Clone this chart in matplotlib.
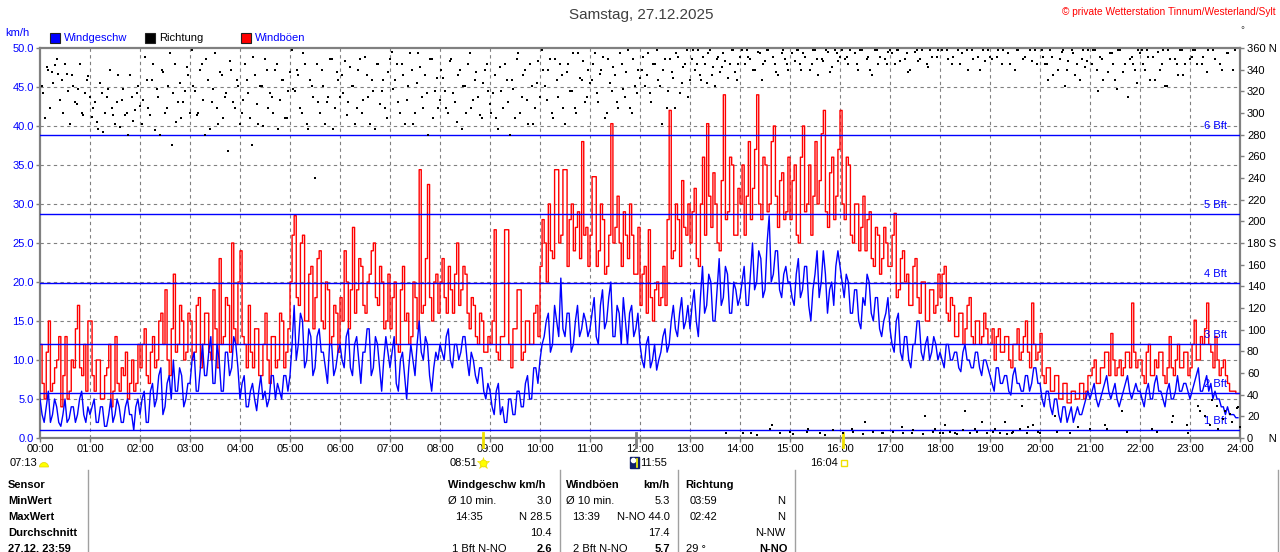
import matplotlib
matplotlib.use('Agg')
import matplotlib.pyplot as plt
import matplotlib.patches as mpatches
import numpy as np

plt.rcParams['font.family'] = ['Liberation Sans', 'DejaVu Sans']

# ---------------- data (2.5-minute values) ----------------
wind_speed = [
    5, 3, 2, 4, 6, 2, 3, 5, 4, 2, 1.5, 3, 5, 2, 2.5, 4, 4, 2, 3, 5, 6, 3, 2, 4,              # 00
    3, 4, 5, 2, 2, 4, 4, 1.5, 1.5, 3, 5, 2, 3, 5, 4, 2, 2, 4, 5, 3, 3, 1, 4, 5,              # 01
    3, 5, 6, 2, 2, 6, 7, 4, 5, 8, 9, 3, 4, 7, 8, 5, 10, 6, 6, 9, 8, 4, 5, 7,                 # 02
    7, 10, 11, 6, 6, 9, 12, 8, 8, 11, 13, 7, 7, 12, 10, 6, 6, 11, 11, 8, 9, 13, 12, 9,       # 03
    5, 7, 8, 4, 4, 6, 7, 5, 3.5, 6, 8, 5, 6, 4, 5, 8, 8, 5, 7, 6, 5, 8, 8, 6,                # 04
    8, 12, 17, 10, 12, 16, 15, 9, 10, 14, 13, 8, 9, 13, 14, 11, 11, 9, 7, 12, 12, 8, 9, 11,  # 05
    12, 10, 9, 13, 14, 9, 8, 12, 13, 10, 7, 11, 11, 14, 14, 8, 9, 13, 12, 9, 6, 10, 13, 11,  # 06
    9, 11, 13, 7, 6, 10, 11, 8, 5, 9, 12, 10, 8, 12, 15, 11, 10, 13, 12, 8, 6, 9, 11, 10,    # 07
    12, 11, 10, 13, 14, 10, 9, 12, 12, 10, 11, 13, 13, 10, 8, 11, 10, 8, 7, 9, 9, 6, 5, 7,   # 08
    6, 4, 3, 6, 7, 3, 4, 2, 2, 5, 5, 3, 3, 6, 6, 4, 4, 7, 8, 5, 5, 9, 9, 7,                  # 09
    10, 12, 13, 15, 16, 11, 12, 17, 15, 13, 20.5, 14, 13, 16, 16, 11, 12, 15, 17, 13, 14, 16, 15, 13,  # 10
    14, 16, 18, 13, 12, 17, 19, 14, 15, 18, 20, 13, 13, 17, 16, 12, 18, 15, 12, 16, 17, 13, 14, 16,    # 11
    12, 10, 9, 12, 13, 9, 10, 12, 8.7, 10, 11, 13, 14, 11, 12, 15, 17, 14, 13, 16, 18, 14, 15, 17,     # 12
    14, 17, 19, 15, 13, 18, 22, 16, 17, 21, 20, 15, 15, 19, 23, 17, 18, 22, 21, 16, 16, 20, 19, 17,    # 13
    18, 20, 22, 17, 17, 21, 25, 19, 20, 24, 23, 18, 19, 25, 28.5, 20, 21, 24, 24, 19, 18, 21, 22, 20,  # 14
    20, 18, 17, 21, 23, 18, 19, 22, 22, 17, 15, 19, 21, 24, 18, 20, 24, 21, 16, 19, 20, 17, 22, 24,    # 15
    22, 20, 18, 21, 20, 16, 16, 19, 19, 15, 14, 18, 17, 21, 20, 16, 15, 18, 18, 14, 13, 15, 16, 18,    # 16
    14, 12, 11, 15, 16, 11, 10, 13, 13, 10, 9, 12, 12, 15, 15, 11, 10, 12, 13, 10, 11, 13, 12, 10,     # 17
    11, 10, 9, 12, 12, 10, 10, 11, 11, 9, 8.5, 11, 12, 10, 10, 9, 9, 11, 11, 9, 8, 10, 10, 9,          # 18
    8, 7, 6, 9, 9, 7, 7, 8, 8, 6, 5.5, 8, 9, 7, 7, 6, 6, 8, 8, 6, 7, 9, 9, 7,                          # 19
    7, 5, 4, 6, 6, 4, 3, 5, 5, 3, 2, 4, 4, 2, 3, 4, 2, 3, 4, 3, 3, 4, 5, 6,                            # 20
    5, 6, 7, 5, 4, 5, 6, 7, 8, 6, 5, 6, 7, 5, 4, 5, 6, 7, 8, 6, 5, 6, 7, 6,                            # 21
    6, 5, 4, 6, 7, 5, 5, 7, 8, 6, 6, 5, 4, 6, 7, 5, 5, 6, 8, 6, 6, 7, 7, 6,                            # 22
    5, 6, 7, 8, 9, 6, 6, 7, 8, 6, 7, 5, 6, 5, 5, 4, 4, 3, 4, 3, 3, 3, 2.6, 2.6,                        # 23
]

gusts = [
    12, 7, 5, 11, 15, 6, 7, 9, 10, 13, 4, 8, 13, 5, 6, 10, 9, 14, 17, 9, 8, 12, 6, 15,
    15, 8, 6, 10, 10, 5, 5, 8, 9, 12, 4, 6, 13, 7, 6, 9, 8, 11, 5, 7, 10, 6, 7, 12,
    9, 12, 14, 8, 7, 11, 13, 9, 10, 15, 16, 12, 19, 10, 8, 14, 21, 11, 12, 17, 15, 10, 11, 16,
    15, 10, 11, 17, 18, 9, 12, 16, 16, 11, 10, 19, 14, 9, 23, 12, 13, 18, 17, 11, 25, 14, 12, 20,
    24, 13, 12, 9, 17, 11, 9, 14, 14, 8, 8, 12, 16, 10, 7, 13, 13, 9, 10, 16, 15, 9, 11, 14,
    20, 26, 28.5, 18, 17, 25, 26, 15, 15, 21, 22, 14, 18, 23, 24, 15, 14, 20, 19, 12, 13, 17, 16, 11,
    18, 15, 24, 20, 14, 19, 27, 16, 19, 23, 22, 17, 16, 20, 21, 24, 25, 18, 17, 22, 20, 14, 15, 21,
    14, 18, 20, 12, 11, 19, 22, 15, 16, 12, 13, 20, 18, 14, 34.4, 16, 17, 23, 32.5, 18, 15, 20, 21, 16,
    20, 23, 18, 16, 22, 19, 16, 21, 25, 17, 19, 22, 21, 16, 14, 18, 17, 13, 12, 16, 15, 11, 11, 13,
    12, 15, 26.7, 11, 10, 13, 13, 26.7, 26.7, 12, 9, 14, 14, 19, 19, 10, 11, 15, 15, 12, 12, 16, 17, 13,
    22, 28, 25, 20, 30, 24, 23, 34.4, 34.4, 25, 26, 34.4, 34.4, 22, 28, 30, 24, 27, 29, 23, 38, 26, 27, 22,
    26, 33.5, 33.5, 22, 24, 30, 28, 21, 22, 26, 40.3, 25, 27, 31, 25, 22, 29, 26, 23, 30, 26, 21, 21, 27,
    17, 21, 22, 16, 26.7, 18, 15, 19, 20, 17, 18, 22, 17, 28, 42, 23, 24, 30, 28, 22, 33, 27, 26, 30,
    25, 29, 32, 23, 22, 30, 36, 26, 40.3, 31, 27, 34, 30, 25, 24, 33, 44, 28, 29, 36, 35, 26, 26, 32,
    30, 35, 26, 31, 38, 28, 32, 37, 44, 30, 28, 36, 35, 29, 30, 38, 40, 31, 27, 33, 34, 28, 29, 36,
    28, 33, 35, 26, 25, 36, 40, 29, 30, 35, 26, 31, 38, 30, 33, 39, 42, 29, 27, 34, 36, 28, 31, 37,
    42, 30, 28, 36, 35, 26, 25, 30, 30, 24, 27, 31, 24, 28, 29, 23, 22, 27, 26, 21, 23, 27, 25, 22,
    22, 26, 28.8, 18, 19, 23, 24, 20, 21, 17, 17, 22, 23, 18, 16, 20, 20, 15, 15, 19, 19, 16, 17, 21,
    18, 21, 22, 16, 15, 18, 17, 13, 13, 16, 16, 12, 14, 17, 18, 13, 12, 15, 15, 12, 13, 16, 14, 12,
    12, 14, 10, 13, 14, 11, 11, 13, 13, 10, 9, 12, 12, 14, 10, 11, 13, 15, 11, 9, 17.3, 12, 10, 11,
    13.4, 8, 7, 9, 9, 6, 6, 8, 8, 5, 5, 7, 7, 4.5, 4.5, 6, 6, 5, 5, 7, 7, 5, 6, 8,
    8, 9, 10, 7, 7, 9, 9, 11, 11, 8, 13.4, 10, 8, 9, 10, 8, 9, 11, 11, 9, 17.3, 11, 9, 10,
    10, 8, 7, 11, 12, 8, 8, 10, 9, 11, 11, 8, 7, 9, 13, 9, 8, 10, 12, 9, 9, 11, 11, 8,
    9, 12, 15.1, 10, 10, 13, 12, 14, 17.3, 12, 11, 9, 13, 10, 8, 9, 10, 8, 7, 6, 6, 6, 5.7, 5.7,
]

# wind direction in degrees, first set at 4-minute steps
direction = [
    325, 295, 340, 338, 344, 336, 330, 345, 320, 335, 310, 322, 300, 318, 334,
    296, 310, 285, 318, 300, 322, 305, 290, 335, 312, 298, 280, 315, 303, 325,
    290, 352, 305, 330, 284, 315, 340, 300, 325, 270, 345, 310, 295, 320, 335,
    358, 320, 300, 345, 280, 330, 310, 355, 290, 335, 315, 265, 340, 305, 325,
    300, 345, 318, 270, 335, 290, 325, 350, 305, 315, 340, 285, 330, 295, 320,
    358, 320, 335, 300, 345, 285, 325, 240, 310, 340, 290, 315, 350, 305, 330,
    335, 348, 310, 325, 290, 340, 300, 352, 315, 330, 285, 345, 320, 305, 338,
    356, 330, 310, 345, 290, 325, 340, 300, 355, 315, 335, 280, 350, 320, 305,
    340, 320, 300, 350, 310, 335, 285, 325, 345, 305, 330, 315, 295, 340, 320,
    300, 335, 285, 320, 345, 310, 330, 295, 355, 315, 340, 290, 325, 305, 348,
    358, 325, 340, 300, 350, 315, 335, 290, 345, 320, 305, 355, 330, 310, 340,
    330, 355, 310, 340, 295, 350, 320, 335, 305, 345, 315, 358, 300, 325, 340,
    340, 325, 355, 310, 345, 330, 290, 350, 320, 338, 305, 352, 328, 345, 315,
    350, 340, 358, 330, 345, 355, 335, 325, 352, 342, 348, 332, 358, 338, 345,
    358, 345, 352, 5, 340, 356, 330, 348, 358, 12, 345, 335, 355, 350, 340,
    355, 348, 358, 340, 352, 8, 345, 358, 335, 350, 3, 356, 342, 358, 348,
    358, 350, 345, 8, 355, 340, 358, 15, 352, 335, 358, 345, 5, 350, 356,
    355, 345, 358, 10, 350, 338, 5, 356, 348, 358, 20, 342, 352, 8, 358,
    358, 12, 350, 345, 5, 358, 355, 25, 340, 358, 8, 352, 15, 348, 358,
    350, 8, 358, 345, 15, 355, 5, 340, 358, 30, 352, 10, 348, 358, 6,
    358, 345, 330, 352, 20, 340, 356, 325, 348, 358, 335, 10, 350, 342, 358,
    345, 358, 320, 350, 12, 338, 355, 330, 358, 25, 345, 315, 352, 340, 358,
    358, 340, 352, 8, 330, 356, 345, 325, 358, 15, 350, 335, 358, 345, 5,
    352, 358, 30, 345, 20, 358, 35, 350, 8, 340, 25, 355, 15, 358, 29,
]

# second set of direction readings, 2 minutes after the first set
direction_b = [
    318, 342, 305, 328, 350, 312, 300, 336, 290, 325, 308, 345, 298, 330, 315,
    305, 292, 328, 282, 315, 340, 298, 310, 287, 322, 300, 335, 293, 318, 306,
    312, 330, 298, 345, 322, 280, 338, 305, 355, 318, 292, 328, 310, 342, 300,
    325, 298, 340, 312, 350, 285, 322, 305, 338, 295, 318, 348, 310, 330, 290,
    312, 330, 295, 352, 308, 325, 288, 340, 318, 300, 345, 312, 330, 295, 338,
    322, 340, 305, 355, 290, 330, 315, 345, 300, 325, 310, 350, 285, 338, 315,
    318, 298, 342, 325, 305, 350, 312, 335, 290, 320, 345, 308, 330, 295, 350,
    322, 345, 300, 335, 312, 355, 290, 328, 342, 305, 318, 350, 295, 332, 312,
    332, 305, 348, 318, 292, 340, 325, 300, 355, 312, 338, 298, 328, 345, 308,
    318, 295, 342, 305, 330, 280, 322, 350, 300, 335, 312, 345, 290, 328, 315,
    340, 312, 350, 295, 330, 345, 305, 338, 320, 355, 300, 332, 348, 315, 328,
    345, 318, 336, 352, 300, 328, 342, 310, 355, 322, 338, 305, 350, 318, 332,
    352, 335, 318, 345, 358, 325, 340, 305, 350, 332, 355, 318, 342, 358, 330,
    358, 345, 335, 352, 328, 358, 342, 350, 338, 355, 5, 345, 358, 330, 352,
    5, 358, 350, 340, 3, 355, 345, 358, 8, 352, 338, 5, 358, 345, 6,
    4, 358, 345, 355, 6, 340, 358, 350, 5, 348, 358, 338, 7, 355, 352,
    5, 352, 358, 6, 345, 358, 4, 350, 340, 6, 358, 352, 5, 345, 358,
    6, 358, 348, 5, 355, 340, 7, 358, 350, 4, 345, 358, 6, 352, 5,
    5, 358, 6, 352, 4, 345, 7, 358, 5, 350, 6, 340, 358, 5, 352,
    6, 352, 5, 358, 4, 345, 6, 358, 8, 350, 5, 358, 12, 345, 5,
    352, 345, 358, 335, 6, 350, 358, 340, 5, 355, 345, 330, 358, 348, 8,
    358, 340, 352, 330, 8, 355, 345, 322, 358, 338, 6, 350, 345, 328, 355,
    345, 358, 330, 352, 6, 340, 358, 325, 350, 20, 345, 358, 335, 12, 350,
    358, 345, 25, 352, 338, 12, 358, 30, 345, 18, 355, 22, 340, 28, 10,
]

bft_levels = [1.0, 5.8, 12.0, 19.9, 28.7, 38.8]
bft_names = ['1 Bft', '2 Bft', '3 Bft', '4 Bft', '5 Bft', '6 Bft']
hour_labels = ['%02d:00' % h for h in range(25)]
speed_ticks = [0, 5, 10, 15, 20, 25, 30, 35, 40, 45, 50]
dir_ticks = list(range(0, 361, 20))
dir_labels = ['0     N' if d == 0 else ('180 S' if d == 180 else ('360 N' if d == 360 else str(d))) for d in dir_ticks]
sun_times = [(8, 51, '#f0e000'), (11, 55, '#808080'), (16, 4, '#f0e000')]

# ---------------- figure ----------------
W, H = 1280, 552
fig = plt.figure(figsize=(12.8, 5.52), dpi=100, facecolor='white')
ax = fig.add_axes([40 / W, 1 - 438 / H, 1200 / W, 390 / H])
ax.set_xlim(0, 24)
ax.set_ylim(0, 50)

grid_c = '#808080'
for h in range(1, 24):
    ax.axvline(h, color=grid_c, lw=0.8, ls=(0, (3, 3)), zorder=1)
for v in range(5, 50, 5):
    ax.axhline(v, color=grid_c, lw=0.8, ls=(0, (3, 3)), zorder=1)

n_per_h = len(wind_speed) / 24.0
t = np.arange(len(wind_speed)) / n_per_h
tg = np.append(t, 24.0)
g = np.append(np.array(gusts, float), gusts[-1])
ax.plot(tg, g, drawstyle='steps-post', color='#ff0000', lw=1.0, zorder=2)
ax.plot(t, wind_speed, color='#0000ff', lw=1.0, zorder=3)

for lvl, name in zip(bft_levels, bft_names):
    ax.axhline(lvl, color='#0000ff', lw=1.0, zorder=4)
    ax.text(23.74, lvl + 1.15, name, ha='right', va='center', color='#0000ff',
            fontsize=8, zorder=4)

for sp in ax.spines.values():
    sp.set_color('#808080')
    sp.set_linewidth(1.6)

ax.set_xticks(range(25))
ax.set_xticklabels(hour_labels, fontsize=8, color='black')
ax.set_yticks(speed_ticks)
ax.set_yticklabels(['%.1f' % v for v in speed_ticks], fontsize=8, color='#0000ff')
ax.tick_params(axis='both', direction='out', length=3, width=1, color='#808080', pad=1.5)

ax2 = ax.twinx()
ax2.set_ylim(0, 360)
td = np.arange(len(direction)) / 15.0 + 0.03
td_b = np.arange(len(direction_b)) / 15.0 + 0.03 + 2 / 60.0
ax2.scatter(td, direction, marker='s', s=3.2, color='black', linewidths=0, zorder=5,
            clip_on=False)
ax2.scatter(td_b, direction_b, marker='s', s=3.2, color='black', linewidths=0, zorder=5,
            clip_on=False)
ax2.set_yticks(dir_ticks)
ax2.set_yticklabels(dir_labels, fontsize=8, color='black')
ax2.tick_params(axis='y', direction='out', length=3, width=1, color='#808080', pad=2)
for sp in ax2.spines.values():
    sp.set_visible(False)

for hh, mm, col in sun_times:
    x = hh + mm / 60.0
    ax.plot([x, x], [-1.2, 0.6], color=col, lw=2, clip_on=False, zorder=6)

# ---------------- overlay for texts in pixel coordinates ----------------
ov = fig.add_axes([0, 0, 1, 1], facecolor='none')
ov.set_xlim(0, W)
ov.set_ylim(H, 0)
ov.axis('off')

ov.text(641, 15, 'Samstag, 27.12.2025', ha='center', va='center', fontsize=11, color='#404040')
ov.text(1276, 12, '© private Wetterstation Tinnum/Westerland/Sylt', ha='right', va='center',
        fontsize=7.3, color='#ff0000')
ov.text(1242, 30, '°', ha='center', va='center', fontsize=7, color='#404040')
ov.text(5, 33, 'km/h', ha='left', va='center', fontsize=8, color='#0000ff')

for x0, fc, label, tc in [(50, '#0000ff', 'Windgeschw', '#0000ff'),
                          (145, '#000000', 'Richtung', '#000000'),
                          (241, '#ff0000', 'Windböen', '#0000ff')]:
    ov.add_patch(mpatches.Rectangle((x0, 33), 10, 10, facecolor=fc, edgecolor='#202020', lw=0.8))
    ov.text(x0 + 14, 38, label, ha='left', va='center', fontsize=8, color=tc)

ov.text(10, 463, '07:13', ha='left', va='center', fontsize=8, color='black')
th = np.linspace(0, np.pi, 20)
ov.fill(44 + 4.5 * np.cos(th), 467 - 4.5 * np.sin(th), color='#ffff00', ec='#e0d000', lw=0.5)
ov.text(450, 463, '08:51', ha='left', va='center', fontsize=8, color='black')
ov.plot(483, 463, marker='*', ms=9, color='#ffff60', mec='#f0e000', mew=0.5)
ov.plot(483, 463, marker='o', ms=5, color='#ffff00', mec='#e8d800', mew=0.5)
ov.add_patch(mpatches.Rectangle((630, 457), 9, 11, facecolor='#10206a', edgecolor='#10206a'))
ov.plot(633, 460, marker='o', ms=3, color='white', mec='white')
ov.plot([637, 637], [459, 467], color='#ffff00', lw=1.2)
ov.text(640, 463, '11:55', ha='left', va='center', fontsize=8, color='black')
ov.text(810, 463, '16:04', ha='left', va='center', fontsize=8, color='black')
ov.add_patch(mpatches.Rectangle((841, 460), 6, 6, facecolor='none', edgecolor='#f0e000', lw=1))

sep_c = '#a0a0a0'
for xs in [88, 560, 678, 795, 1278]:
    ov.plot([xs, xs], [470, 552], color=sep_c, lw=1)

rows_y = [485, 501, 517, 533, 549]
for y, s in zip(rows_y, ['Sensor', 'MinWert', 'MaxWert', 'Durchschnitt', '27.12. 23:59']):
    ov.text(8, y, s, ha='left', va='center', fontsize=8, fontweight='bold', color='black')

def cell(x, y, s, ha='left', bold=False):
    ov.text(x, y, s, ha=ha, va='center', fontsize=8, color='black',
            fontweight='bold' if bold else 'normal')

cell(448, 485, 'Windgeschw km/h', bold=True)
cell(566, 485, 'Windböen', bold=True)
cell(670, 485, 'km/h', ha='right', bold=True)
cell(685, 485, 'Richtung', bold=True)

cell(448, 501, 'Ø 10 min.')
cell(552, 501, '3.0', ha='right')
cell(566, 501, 'Ø 10 min.')
cell(670, 501, '5.3', ha='right')
cell(690, 501, '03:59')
cell(785, 501, 'N', ha='right')

cell(455, 517, '14:35')
cell(552, 517, 'N 28.5', ha='right')
cell(572, 517, '13:39')
cell(670, 517, 'N-NO 44.0', ha='right')
cell(690, 517, '02:42')
cell(785, 517, 'N', ha='right')

cell(552, 533, '10.4', ha='right')
cell(670, 533, '17.4', ha='right')
cell(785, 533, 'N-NW', ha='right')

cell(452, 549, '1 Bft N-NO')
cell(552, 549, '2.6', ha='right', bold=True)
cell(573, 549, '2 Bft N-NO')
cell(670, 549, '5.7', ha='right', bold=True)
cell(686, 549, '29 °')
cell(788, 549, 'N-NO', ha='right', bold=True)

fig.savefig('out.png', dpi=100, facecolor='white')
